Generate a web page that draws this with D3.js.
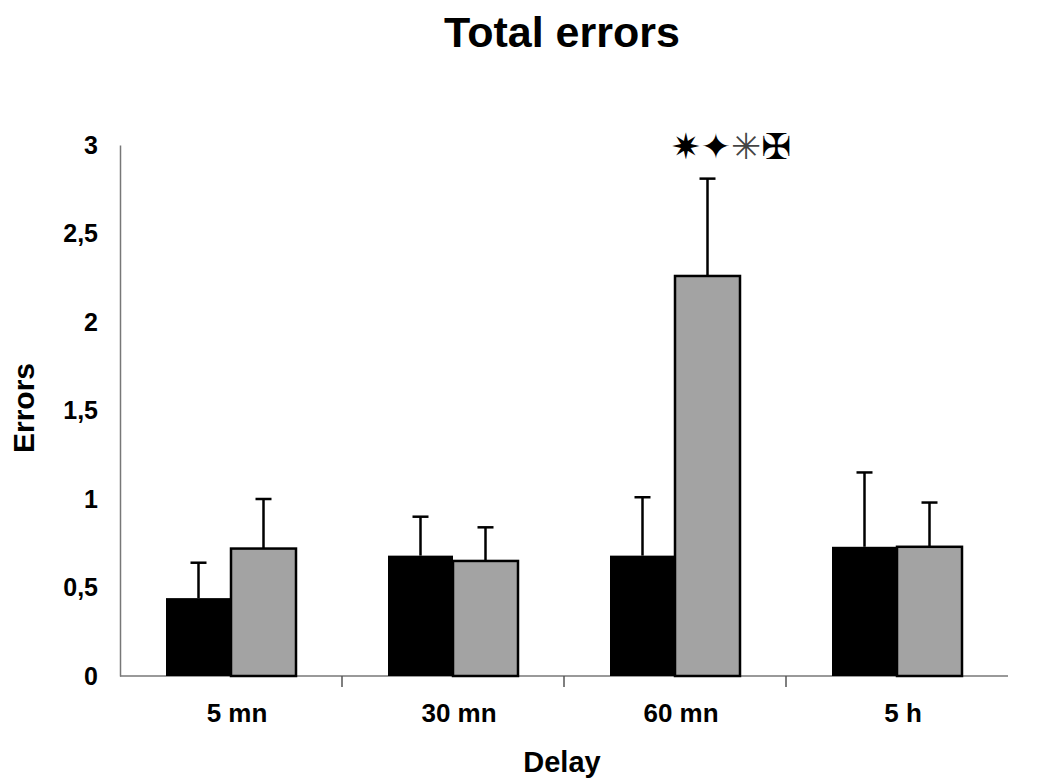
<!DOCTYPE html>
<html lang="en">
<head>
<meta charset="UTF-8">
<title>Total errors</title>
<script src="https://d3js.org/d3.v7.min.js"></script>
<style>
    body { margin: 0; background: #fff; }
    text { font-family: "Liberation Sans", Arial, sans-serif; font-weight: bold; fill: #000; }
</style>
</head>
<body>
<svg width="1039" height="781"></svg>
<script>
    // data
    const delays = ["5 mn", "30 mn", "60 mn", "5 h"];
    const groups = ["black", "grey"];
    const blackMeans = [0.44, 0.68, 0.68, 0.73];
    const blackErr = [0.20, 0.22, 0.33, 0.42];
    const greyMeans = [0.72, 0.65, 2.26, 0.73];
    const greyErr = [0.28, 0.19, 0.55, 0.25];
    const yTicks = [0, 0.5, 1, 1.5, 2, 2.5, 3];
    const marks = ["\u2737", "\u2726", "\u2733", "\u2720"];

    const svg = d3.select("svg");
    const mLeft = 120, mRight = 1008, mTop = 145, mBottom = 676;

    const x = d3.scaleBand().domain(delays).range([mLeft, mRight]).padding(0);
    const x1 = d3.scaleBand().domain(groups)
        .range([46, 46 + 130]).padding(0);
    const y = d3.scaleLinear().domain([0, 3]).range([mBottom, mTop]);

    const rows = delays.map((d, i) => [
        {delay: d, g: "black", v: blackMeans[i], e: blackErr[i]},
        {delay: d, g: "grey", v: greyMeans[i], e: greyErr[i]}
    ]).flat();

    // title
    svg.append("text").attr("x", 562).attr("y", 47)
        .attr("text-anchor", "middle").style("font-size", "43px")
        .text("Total errors");

    // y axis
    const yAxis = svg.append("g").attr("transform", `translate(${mLeft},0)`)
        .call(d3.axisLeft(y).tickValues(yTicks).tickSize(0).tickPadding(22)
            .tickFormat(d => String(d).replace(".", ",")));
    yAxis.select(".domain").attr("stroke", "#777").attr("stroke-width", 1.5);
    yAxis.selectAll("text").style("font-size", "25px")
        .style("font-family", "'Liberation Sans', Arial, sans-serif");

    // x axis
    const xAxis = svg.append("g").attr("transform", `translate(0,${mBottom})`);
    xAxis.append("line").attr("x1", mLeft).attr("x2", mRight)
        .attr("stroke", "#777").attr("stroke-width", 1.5);
    xAxis.selectAll("line.tk").data(delays.slice(1)).enter().append("line")
        .attr("class", "tk")
        .attr("x1", d => x(d)).attr("x2", d => x(d))
        .attr("y1", 0).attr("y2", 11)
        .attr("stroke", "#555").attr("stroke-width", 1.5);
    xAxis.selectAll("text").data(delays).enter().append("text")
        .attr("x", d => x(d) + x.bandwidth() / 2 + 6)
        .attr("y", 46)
        .attr("text-anchor", "middle").style("font-size", "26px")
        .text(d => d);

    // axis titles
    svg.append("text").attr("transform", "translate(34,408) rotate(-90)")
        .attr("text-anchor", "middle").style("font-size", "30px").text("Errors");
    svg.append("text").attr("x", 562).attr("y", 772)
        .attr("text-anchor", "middle").style("font-size", "29px").text("Delay");

    // error bars (upper only)
    const eb = svg.append("g");
    rows.forEach(r => {
        const cx = x(r.delay) + x1(r.g) + x1.bandwidth() / 2;
        eb.append("line").attr("x1", cx).attr("x2", cx)
            .attr("y1", y(r.v)).attr("y2", y(r.v + r.e))
            .attr("stroke", "#000").attr("stroke-width", 2.5);
        eb.append("line").attr("x1", cx - 8).attr("x2", cx + 8)
            .attr("y1", y(r.v + r.e)).attr("y2", y(r.v + r.e))
            .attr("stroke", "#000").attr("stroke-width", 2.5);
    });

    // bars
    svg.append("g").selectAll("rect").data(rows).enter().append("rect")
        .attr("x", d => x(d.delay) + x1(d.g))
        .attr("y", d => y(d.v))
        .attr("width", x1.bandwidth())
        .attr("height", d => y(0) - y(d.v))
        .attr("fill", d => d.g === "black" ? "#000" : "#a3a3a3")
        .attr("stroke", "#000")
        .attr("stroke-width", d => d.g === "black" ? 0 : 2.5);

    // significance marks above 60 mn
    const mk = svg.append("text")
        .attr("x", x("60 mn") + x1.bandwidth() * 2 + 37)
        .attr("y", 159)
        .style("font-family", "'DejaVu Sans', sans-serif")
        .style("font-size", "36px")
        .attr("text-anchor", "middle");
    marks.forEach((m, i) => {
        mk.append("tspan").text(m)
            .style("fill", i === 2 ? "#444" : "#000")
            .style("font-weight", i === 2 ? "normal" : "bold");
    });
</script>
</body>
</html>
